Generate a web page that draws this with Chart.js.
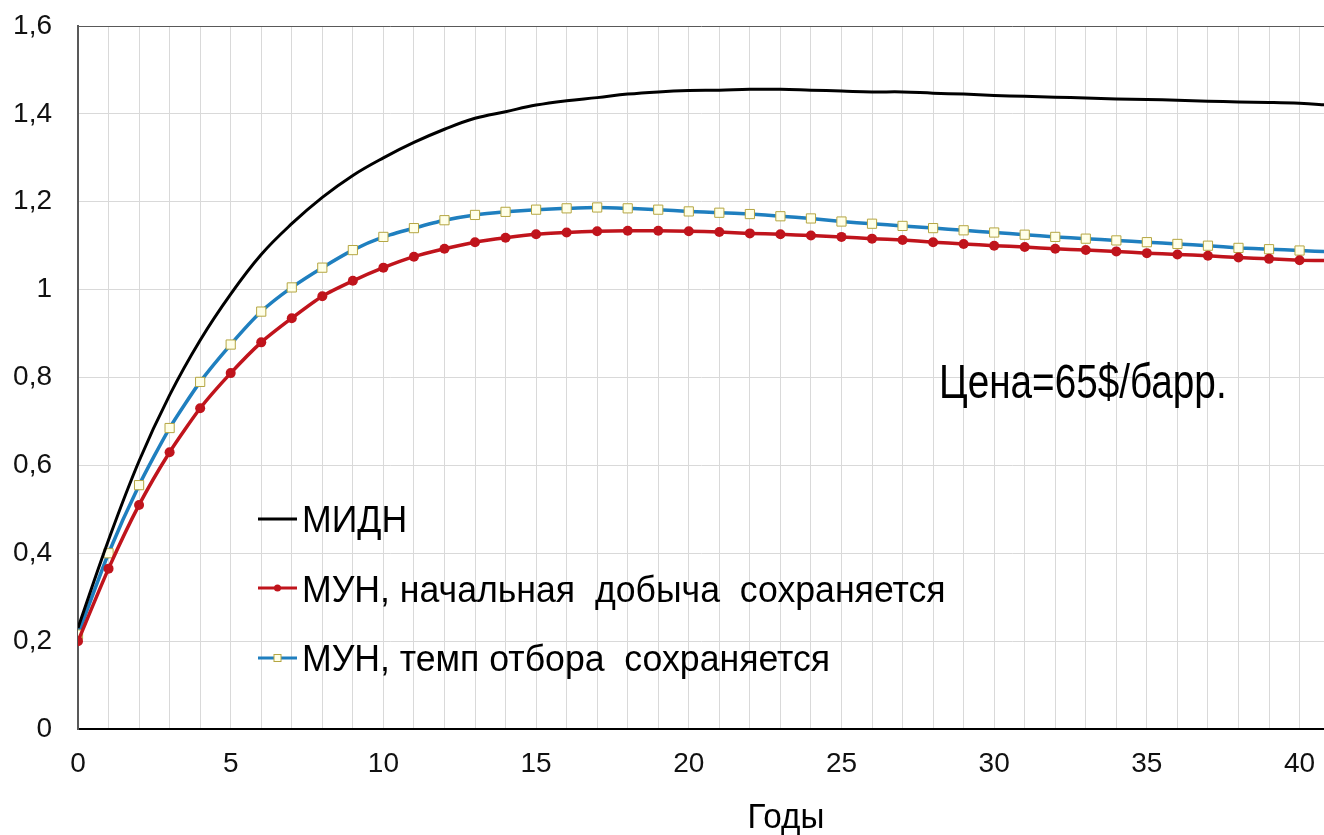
<!DOCTYPE html>
<html>
<head>
<meta charset="utf-8">
<script src="https://cdn.jsdelivr.net/npm/chart.js@4"></script>
<style>
  body { margin: 0; background: #fff; }
</style>
</head>
<body>
<canvas id="chart" width="1324" height="835"></canvas>
<script>
// years on the x axis
const years = [0,1,2,3,4,5,6,7,8,9,10,11,12,13,14,15,16,17,18,19,20,21,22,23,24,25,26,27,28,29,30,31,32,33,34,35,36,37,38,39,40,41];

// МИДН (black)
const midn = [0.23,0.43,0.61,0.76,0.885,0.99,1.08,1.15,1.21,1.26,1.30,1.335,1.365,1.39,1.405,1.42,1.43,1.437,1.445,1.45,1.453,1.454,1.456,1.456,1.454,1.452,1.45,1.45,1.447,1.445,1.442,1.44,1.438,1.436,1.434,1.433,1.431,1.429,1.427,1.426,1.424,1.42];

// МУН, начальная добыча сохраняется (red)
const munStart = [0.20,0.365,0.51,0.63,0.73,0.81,0.88,0.935,0.985,1.02,1.05,1.075,1.093,1.108,1.118,1.126,1.13,1.133,1.134,1.134,1.133,1.131,1.128,1.126,1.123,1.12,1.116,1.113,1.108,1.104,1.10,1.097,1.093,1.09,1.087,1.083,1.08,1.077,1.073,1.07,1.067,1.066];

// МУН, темп отбора сохраняется (blue)
const munRate = [0.215,0.40,0.555,0.685,0.79,0.875,0.95,1.005,1.05,1.09,1.12,1.14,1.158,1.17,1.177,1.182,1.185,1.187,1.185,1.182,1.178,1.175,1.172,1.167,1.162,1.155,1.15,1.145,1.14,1.135,1.13,1.125,1.12,1.116,1.112,1.108,1.104,1.10,1.095,1.092,1.089,1.086];

const seriesNames = ['МИДН', 'МУН, начальная  добыча  сохраняется', 'МУН, темп отбора  сохраняется'];
const xTitle = 'Годы';
const note = 'Цена=65$/барр.';

const RED = '#c0141c';
const BLUE = '#1f7fbf';
const sans = '"Liberation Sans", Arial, sans-serif';

function toPoints(arr) {
  return years.map((x, i) => ({ x: x, y: arr[i] }));
}

// text squeezed horizontally, like the narrow font of the original
function squeezed(ctx, text, x, y, sx) {
  ctx.save();
  ctx.translate(x, y);
  ctx.scale(sx, 1);
  ctx.fillText(text, 0, 0);
  ctx.restore();
}

// draws the in-plot legend, the price note and the axis title
const extras = {
  id: 'extras',
  afterDraw(chart) {
    const ctx = chart.ctx;
    ctx.save();
    ctx.textBaseline = 'alphabetic';
    ctx.textAlign = 'left';

    const lines = [519, 588, 658];
    const bases = [532, 602, 671];
    const x0 = 258, x1 = 297, xm = (x0 + x1) / 2;
    // black
    ctx.strokeStyle = '#000'; ctx.lineWidth = 3;
    ctx.beginPath(); ctx.moveTo(x0, lines[0]); ctx.lineTo(x1, lines[0]); ctx.stroke();
    // red
    ctx.strokeStyle = RED;
    ctx.beginPath(); ctx.moveTo(x0, lines[1]); ctx.lineTo(x1, lines[1]); ctx.stroke();
    ctx.fillStyle = RED;
    ctx.beginPath(); ctx.arc(xm, lines[1], 3.5, 0, Math.PI * 2); ctx.fill();
    // blue
    ctx.strokeStyle = BLUE;
    ctx.beginPath(); ctx.moveTo(x0, lines[2]); ctx.lineTo(x1, lines[2]); ctx.stroke();
    ctx.fillStyle = '#ffffe8'; ctx.strokeStyle = '#b5a642'; ctx.lineWidth = 1;
    ctx.fillRect(xm - 3.5, lines[2] - 3.5, 7, 7);
    ctx.strokeRect(xm - 3.5, lines[2] - 3.5, 7, 7);

    ctx.fillStyle = '#000';
    ctx.font = '36px ' + sans;
    seriesNames.forEach((n, i) => squeezed(ctx, n, 302, bases[i], 0.99));

    ctx.font = '49px ' + sans;
    squeezed(ctx, note, 939, 398, 0.79);

    ctx.font = '35px ' + sans;
    const w = ctx.measureText(xTitle).width * 0.95;
    squeezed(ctx, xTitle, 786 - w / 2, 828, 0.95);
    ctx.restore();
  }
};

new Chart(document.getElementById('chart'), {
  type: 'line',
  data: {
    datasets: [
      {
        label: seriesNames[0],
        data: toPoints(midn),
        borderColor: '#000',
        borderWidth: 3,
        pointRadius: 0,
        tension: 0.4
      },
      {
        label: seriesNames[1],
        data: toPoints(munStart),
        borderColor: RED,
        backgroundColor: RED,
        borderWidth: 3.5,
        pointRadius: 5,
        pointStyle: 'circle',
        pointBorderWidth: 0,
        tension: 0.2
      },
      {
        label: seriesNames[2],
        data: toPoints(munRate),
        borderColor: BLUE,
        borderWidth: 3.5,
        pointRadius: 6.5,
        pointStyle: 'rect',
        pointBackgroundColor: '#ffffe8',
        pointBorderColor: '#b5a642',
        pointBorderWidth: 1,
        tension: 0.2
      }
    ]
  },
  options: {
    responsive: false,
    animation: false,
    layout: { autoPadding: false, padding: { top: 26, right: 0, left: 0, bottom: 0 } },
    plugins: { legend: { display: false }, tooltip: { enabled: false } },
    scales: {
      x: {
        type: 'linear',
        min: 0,
        max: 40.8,
        border: { color: '#000', width: 2 },
        grid: { color: '#d9d9d9', lineWidth: 1, drawTicks: false },
        ticks: {
          stepSize: 1,
          includeBounds: false,
          autoSkip: false,
          maxRotation: 0,
          padding: 18,
          color: '#111',
          font: { family: 'Liberation Sans, Arial, sans-serif', size: 28 },
          callback: v => (v % 5 === 0 ? String(v) : '')
        },
        afterFit: s => { s.height = 106; s.paddingRight = 0; s.paddingLeft = 0; }
      },
      y: {
        min: 0,
        max: 1.6,
        border: { color: '#595959', width: 2 },
        grid: {
          color: c => (c.tick && c.tick.value >= 1.6 ? '#595959' : '#d9d9d9'),
          lineWidth: 1,
          drawTicks: false
        },
        ticks: {
          stepSize: 0.2,
          padding: 26,
          color: '#111',
          font: { family: 'Liberation Sans, Arial, sans-serif', size: 28 },
          callback: v => String(Math.round(v * 10) / 10).replace('.', ',')
        },
        afterFit: s => { s.width = 78; s.paddingTop = 0; s.paddingBottom = 0; }
      }
    }
  },
  plugins: [extras]
});
</script>
</body>
</html>
